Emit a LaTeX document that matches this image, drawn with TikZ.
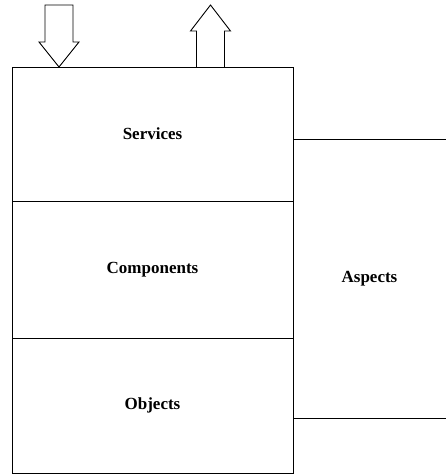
\documentclass[tikz,border=0pt]{standalone}
\usepackage{fontspec}
\setmainfont{Liberation Serif}
\usetikzlibrary{positioning}

\begin{document}
\begin{tikzpicture}[
  x = 1pt, y = -1pt, line width = 0.9pt,
  layer/.style = {draw, rectangle, inner sep = 0pt, outer sep = 0pt,
    minimum width = 281pt, font = \fontsize{17}{20}\selectfont\bfseries},
  side/.style = {rectangle, inner sep = 0pt, outer sep = 0pt,
    minimum width = 153pt, minimum height = 279pt,
    font = \fontsize{17}{20}\selectfont\bfseries},
  blockarrow/.style = {draw, line join = miter}
]
\useasboundingbox (0,0) rectangle (446,475);

% layers of the stack
\node[layer, minimum height = 134pt] (services) at (152.5,134) {Services};
\node[layer, minimum height = 137pt, below = 0pt of services] (components) {Components};
\node[layer, minimum height = 135pt, below = 0pt of components] (objects) {Objects};

% cross-cutting part, open to the right
\node[side] (aspects) at (369.5,278.5) {Aspects};
\draw (aspects.north east) -- (aspects.north west) -- (aspects.south west) -- (aspects.south east);

% in and out arrows
\coordinate (intip) at (59,67);
\coordinate (outbase) at (210.5,67);
\draw[blockarrow] (intip) -- ++(-20,-25) -- ++(6,0) -- ++(0,-37) -- ++(28,0)
  -- ++(0,37) -- ++(6,0) -- cycle;
\draw[blockarrow] ([xshift=-14pt]outbase) -- ++(0,-36) -- ++(-6,0) -- ++(20,-26)
  -- ++(20,26) -- ++(-6,0) -- ++(0,36);
\end{tikzpicture}
\end{document}
